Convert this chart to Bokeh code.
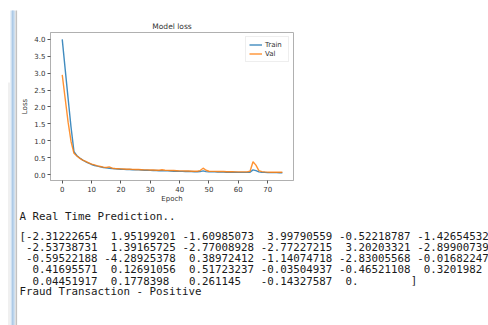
from bokeh.plotting import figure
from bokeh.models import Range1d, FixedTicker, NumeralTickFormatter, Legend, LegendItem
from bokeh.layouts import row, column
from bokeh.core.properties import value
from bokeh.embed import file_html
from bokeh.resources import INLINE

# ---------------- data ----------------
epochs = list(range(76))
train_loss = [4.00, 3.12, 2.25, 1.40, 0.68, 0.56, 0.49, 0.43, 0.38, 0.34,
              0.30, 0.27, 0.25, 0.23, 0.21, 0.20, 0.19, 0.18, 0.17, 0.165,
              0.16, 0.155, 0.15, 0.15, 0.145, 0.14, 0.14, 0.135, 0.13, 0.13,
              0.125, 0.12, 0.12, 0.115, 0.115, 0.11, 0.11, 0.105, 0.10, 0.10,
              0.095, 0.095, 0.09, 0.09, 0.09, 0.085, 0.085, 0.09, 0.11, 0.09,
              0.08, 0.08, 0.08, 0.075, 0.075, 0.075, 0.07, 0.07, 0.07, 0.07,
              0.065, 0.065, 0.065, 0.065, 0.07, 0.14, 0.12, 0.08, 0.07, 0.065,
              0.06, 0.06, 0.06, 0.06, 0.055, 0.055]
val_loss = [2.95, 2.25, 1.55, 0.98, 0.63, 0.55, 0.48, 0.43, 0.39, 0.35,
            0.31, 0.29, 0.26, 0.24, 0.22, 0.21, 0.23, 0.19, 0.18, 0.175,
            0.17, 0.165, 0.16, 0.16, 0.155, 0.15, 0.15, 0.145, 0.14, 0.14,
            0.135, 0.135, 0.13, 0.13, 0.145, 0.13, 0.125, 0.12, 0.12, 0.115,
            0.11, 0.11, 0.105, 0.105, 0.10, 0.10, 0.10, 0.12, 0.19, 0.13,
            0.10, 0.095, 0.095, 0.09, 0.09, 0.09, 0.085, 0.085, 0.085, 0.08,
            0.08, 0.08, 0.08, 0.08, 0.10, 0.38, 0.28, 0.12, 0.09, 0.08,
            0.075, 0.07, 0.07, 0.07, 0.07, 0.07]
x_ticks = [0, 10, 20, 30, 40, 50, 60, 70]
y_ticks = [0.0, 0.5, 1.0, 1.5, 2.0, 2.5, 3.0, 3.5, 4.0]

header_text = "A Real Time Prediction.."
footer_text = "Fraud Transaction - Positive"
feature_values = ["-2.31222654", " 1.95199201", "-1.60985073", " 3.99790559", "-0.52218787", "-1.42654532",
                  "-2.53738731", " 1.39165725", "-2.77008928", "-2.77227215", " 3.20203321", "-2.89900739",
                  "-0.59522188", "-4.28925378", " 0.38972412", "-1.14074718", "-2.83005568", "-0.01682247",
                  " 0.41695571", " 0.12691056", " 0.51723237", "-0.03504937", "-0.46521108", " 0.3201982",
                  " 0.04451917", " 0.1778398", " 0.261145", "-0.14327587", " 0."]

BLUE = "#1f77b4"
ORANGE = "#ff7f0e"
TXT = "#333333"

# page geometry (page pixel coordinates, page starts at 0,0)
W, H = 488, 325
LEFT_COL = 18          # width of the notebook gutter strip
FR_L, FR_R, FR_T, FR_B = 50, 293, 32, 183
CHART_BOTTOM = 205


def bare_fig(**kw):
    f = figure(output_backend="svg", toolbar_location=None,
               x_axis_location=None, y_axis_location=None,
               min_border=0, min_border_left=0, min_border_right=0,
               min_border_top=0, min_border_bottom=0, **kw)
    f.grid.visible = False
    f.outline_line_color = None
    return f


# ---------------- left notebook gutter ----------------
bars = bare_fig(width=LEFT_COL, height=H, x_range=Range1d(0, LEFT_COL), y_range=Range1d(H, 0))
bars.quad(left=[8], right=[9], top=[82], bottom=[H], fill_color="#e2e2e2", line_color=None)
bars.quad(left=[10], right=[14.5], top=[10], bottom=[H], fill_color="#cfe0f0", line_color=None)
bars.quad(left=[11.6], right=[13], top=[10], bottom=[H], fill_color="#a9c8e6", line_color=None)
bars.quad(left=[15], right=[16.6], top=[10], bottom=[H], fill_color="#c2c2c2", line_color=None)

# ---------------- chart ----------------
p = figure(width=W - LEFT_COL, height=CHART_BOTTOM, x_range=Range1d(-4.0, 78.8),
           y_range=Range1d(-0.174, 4.203),
           output_backend="svg", toolbar_location=None, title="Model loss",
           min_border_left=FR_L - LEFT_COL, min_border_right=W - FR_R,
           min_border_top=FR_T, min_border_bottom=CHART_BOTTOM - FR_B)
p.title.align = "center"
p.title.text_font = "DejaVu Sans"
p.title.text_font_size = "7.5px"
p.title.text_font_style = "normal"
p.title.text_color = TXT
p.title.standoff = 4
p.grid.visible = False
p.outline_line_color = "#b0b0b0"
p.outline_line_width = 1

for ax in (p.xaxis[0], p.yaxis[0]):
    ax.axis_line_color = "#b0b0b0"
    ax.major_tick_line_color = "#555555"
    ax.major_tick_out = 3
    ax.major_tick_in = 0
    ax.minor_tick_line_color = None
    ax.major_label_text_font = "DejaVu Sans"
    ax.major_label_text_font_size = "7px"
    ax.major_label_text_color = TXT
    ax.major_label_standoff = 2
    ax.axis_label_text_font = "DejaVu Sans"
    ax.axis_label_text_font_size = "7px"
    ax.axis_label_text_font_style = "normal"
    ax.axis_label_text_color = TXT
    ax.axis_label_standoff = 2

p.xaxis[0].ticker = FixedTicker(ticks=x_ticks)
p.yaxis[0].ticker = FixedTicker(ticks=y_ticks)
p.yaxis[0].formatter = NumeralTickFormatter(format="0.0")
p.xaxis[0].axis_label = "Epoch"
p.yaxis[0].axis_label = "Loss"
p.xaxis[0].axis_label_standoff = 0

r_train = p.line(epochs, train_loss, line_color=BLUE, line_width=1.4, line_alpha=0.85)
r_val = p.line(epochs, val_loss, line_color=ORANGE, line_width=1.4, line_alpha=0.85)

legend = Legend(items=[LegendItem(label="Train", renderers=[r_train]),
                       LegendItem(label="Val", renderers=[r_val])],
                location="top_right")
legend.margin = 4
legend.padding = 3
legend.spacing = 0
legend.label_height = 9
legend.glyph_height = 9
legend.glyph_width = 13
legend.label_standoff = 3
legend.label_text_font = "DejaVu Sans"
legend.label_text_font_size = "7px"
legend.label_text_color = TXT
legend.border_line_color = "#dddddd"
legend.border_line_width = 1
legend.background_fill_alpha = 0.9
p.add_layout(legend, "center")

# ---------------- text output ----------------
t = bare_fig(width=W - LEFT_COL, height=H - CHART_BOTTOM,
             x_range=Range1d(LEFT_COL, W), y_range=Range1d(H, CHART_BOTTOM))

X0 = 19.0
CW = 6.52
mono = value("DejaVu Sans Mono")
FS = "10.8px"
line_y = [235.6, 246.7, 257.8, 268.9, 280.0]
per_line = 6

xs, ys, toks = [], [], []
for i, s in enumerate(feature_values):
    r = i // per_line
    c = 1 + 12 * (i % per_line)
    lead = len(s) - len(s.lstrip(" "))
    xs.append(X0 + (c + lead) * CW)
    ys.append(line_y[r])
    toks.append(s.strip())
xs.append(X0); ys.append(line_y[0]); toks.append("[")
last = len(feature_values) - 1
xs.append(X0 + (12 * ((last % per_line) + 1)) * CW); ys.append(line_y[last // per_line]); toks.append("]")
xs.append(X0); ys.append(215.8); toks.append(header_text)
xs.append(X0); ys.append(291.0); toks.append(footer_text)

t.text(x=xs, y=ys, text=toks, text_font=mono, text_font_size=FS,
       text_baseline="middle", text_align="left", text_color="#1a1a1a")

layout = row(bars, column(p, row(t)))
open("out.html", "w").write(file_html(layout, INLINE))
